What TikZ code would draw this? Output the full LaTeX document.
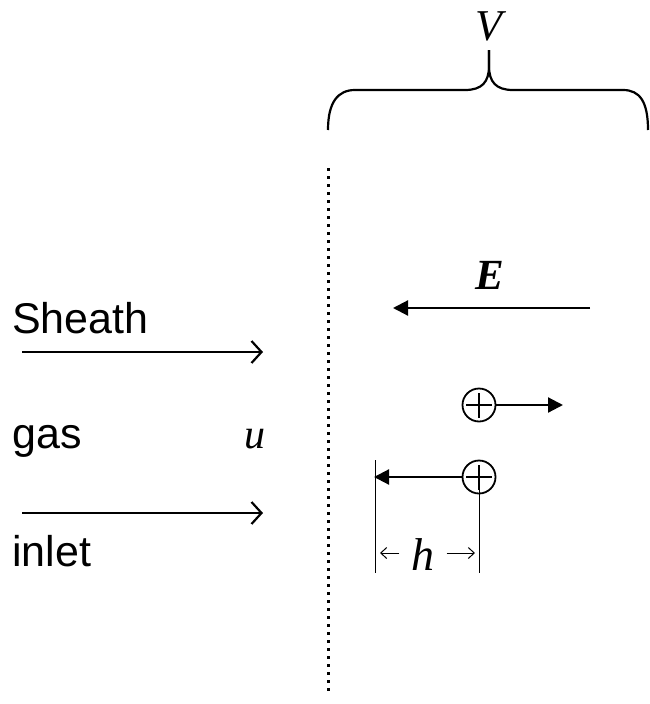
\documentclass[tikz,border=0pt]{standalone}
\usepackage{fontspec}
\setmainfont{Liberation Serif}
\newfontfamily\arialfont{Liberation Sans}
\usetikzlibrary{arrows.meta}
\begin{document}
\begin{tikzpicture}[x=1pt,y=-1pt,
  label sans/.style={anchor=base west,inner sep=0pt,font=\arialfont\fontsize{43}{43}\selectfont},
  label ital/.style={anchor=base,inner sep=0pt,font=\fontsize{44}{44}\selectfont\itshape},
  flowarrow/.style={line width=2.2pt,-{Straight Barb[length=10pt,width=22pt,line width=2.2pt]}},
  fieldarrow/.style={line width=2.2pt,-{Triangle[length=15pt,width=15pt]}},
  ion/.style={circle,draw,line width=1.8pt,minimum size=33pt,inner sep=0pt},
  thinline/.style={line width=1pt},
  smallarrow/.style={line width=1pt,-{Straight Barb[length=6pt,width=11pt,line width=1pt]}}]
\useasboundingbox (0,0) rectangle (650,704);

% brace and V
\draw[line width=2.2pt] (328,130) .. controls (328,102) and (338,90) .. (355,90) -- (465,90)
  .. controls (482,90) and (489,82) .. (489,66) -- (489,50);
\draw[line width=2.2pt] (489,50) -- (489,66) .. controls (489,82) and (496,90) .. (513,90) -- (623,90)
  .. controls (640,90) and (648,102) .. (648,130);
\node[label ital] (V) at (489,40) {V};

% dotted wall
\coordinate (wtop) at (328,168);
\coordinate (wbot) at (328,694);
\draw[line width=3pt,dash pattern=on 3pt off 5pt] (wtop) -- (wbot);

% sheath gas inlet
\node[label sans] (sheath) at (12,333) {Sheath};
\node[label sans] (gas) at (12,448) {gas};
\node[label sans] (inlet) at (12,566) {inlet};
\node[label ital,font=\fontsize{42}{42}\selectfont\itshape] (u) at (255,448) {u};
\coordinate (f1s) at (22,352); \coordinate (f1e) at (263,352);
\coordinate (f2s) at (22,513); \coordinate (f2e) at (263,513);
\draw[flowarrow] (f1s) -- (f1e);
\draw[flowarrow] (f2s) -- (f2e);

% field E
\node[label ital,font=\fontsize{43}{43}\selectfont\bfseries\itshape] (E) at (490,289) {E};
\coordinate (es) at (590,308); \coordinate (ee) at (393,308);
\draw[fieldarrow] (es) -- (ee);

% ions
\node[ion] (p1) at (479,405) {};
\node[ion] (p2) at (479,477) {};
\foreach \p in {p1,p2}{
  \draw[line width=2.2pt] ([xshift=-13pt]\p.center) -- ([xshift=13pt]\p.center);
  \draw[line width=2.2pt] ([yshift=-12.5pt]\p.center) -- ([yshift=12.5pt]\p.center);
}
\coordinate (a1e) at (563,405);
\draw[fieldarrow] (p1.east) -- (a1e);
\coordinate (a2e) at (374,477);
\draw[fieldarrow] (p2.west) -- (a2e);

% dimension h
\coordinate (dl1) at (375,460); \coordinate (dl2) at (375,573);
\coordinate (dr2) at (479,573);
\draw[thinline] (dl1) -- (dl2);
\draw[thinline] (p2.center) -- (dr2);
\node[label ital,font=\fontsize{46}{46}\selectfont\itshape] (h) at (423,570) {h};
\coordinate (hl) at (380,553); \coordinate (hr) at (475,553);
\draw[smallarrow] ([xshift=-12pt]h.west |- hl) -- (hl);
\draw[smallarrow] ([xshift=12pt]h.east |- hr) -- (hr);
\end{tikzpicture}
\end{document}
